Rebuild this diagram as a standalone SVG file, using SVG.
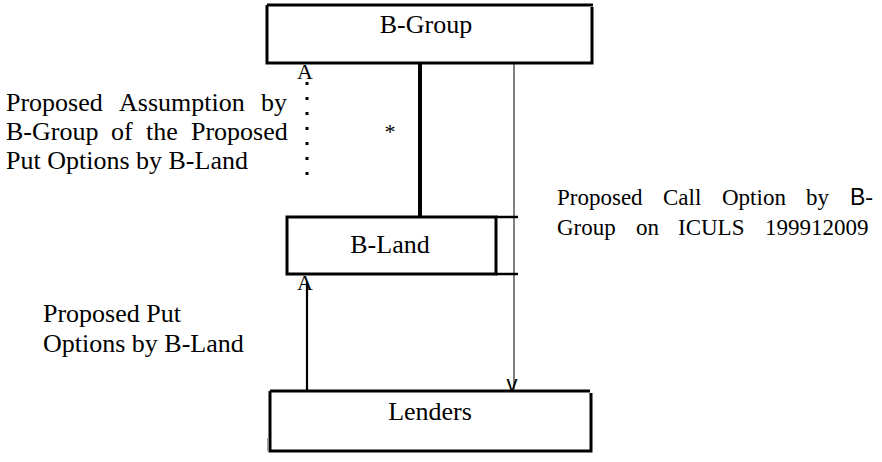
<svg xmlns="http://www.w3.org/2000/svg" width="882" height="462" viewBox="0 0 882 462">
<style>
text{font-family:"Liberation Serif","Times New Roman",serif;font-size:26px;fill:#000}
.box{fill:none;stroke:#000;stroke-width:3}
.c{text-anchor:middle}
.a{font-size:22px}
.r{font-size:23px}
.sans{font-family:"Liberation Sans",Arial,sans-serif}
</style>
<rect width="882" height="462" fill="#fff"/>
<g id="connectors">
<line x1="420" y1="64" x2="420" y2="217" stroke="#000" stroke-width="4"/>
<line x1="514" y1="64" x2="514" y2="389" stroke="#000" stroke-width="1"/>
<line x1="307" y1="82" x2="307" y2="176" stroke="#000" stroke-width="3" stroke-dasharray="3 12"/>
<line x1="307" y1="282" x2="307" y2="390" stroke="#000" stroke-width="2.2"/>
<text x="305" y="79" class="c a">A</text>
<text x="305" y="290" class="c a">A</text>
<text x="512" y="391" class="c a sans">v</text>
<text x="390" y="139" class="c a">*</text>
</g>
<g id="b-group">
<path class="box" d="M267,5 H593 M592,7 V63 H267 V5"/>
<text x="426" y="33" class="c">B-Group</text>
</g>
<g id="b-land">
<rect class="box" x="287" y="217" width="209" height="57"/>
<line x1="496" y1="217" x2="518" y2="217" stroke="#000" stroke-width="2.5"/>
<line x1="496" y1="274" x2="518" y2="274" stroke="#000" stroke-width="2.5"/>
<text x="390" y="253" class="c">B-Land</text>
</g>
<g id="lenders">
<path class="box" d="M270,391 H590 M591,393 V451 H270 V391"/>
<line x1="268" y1="438" x2="268" y2="451" stroke="#888" stroke-width="1.5"/>
<text x="430" y="420" class="c">Lenders</text>
</g>
<g id="labels">
<text y="111"><tspan x="6">Proposed</tspan><tspan x="119">Assumption</tspan><tspan x="261">by</tspan></text>
<text y="140"><tspan x="6">B-Group</tspan><tspan x="111">of</tspan><tspan x="146">the</tspan><tspan x="191">Proposed</tspan></text>
<text y="169" x="6">Put Options by B-Land</text>
<text y="205" class="r"><tspan x="557">Proposed</tspan><tspan x="663">Call</tspan><tspan x="722">Option</tspan><tspan x="806">by</tspan><tspan x="850" class="sans">B</tspan><tspan>-</tspan></text>
<text y="235" class="r"><tspan x="557">Group</tspan><tspan x="636">on</tspan><tspan x="678">ICULS</tspan><tspan x="765">199912009</tspan></text>
<text x="43" y="322">Proposed Put</text>
<text x="43" y="352">Options by B-Land</text>
</g>
</svg>
